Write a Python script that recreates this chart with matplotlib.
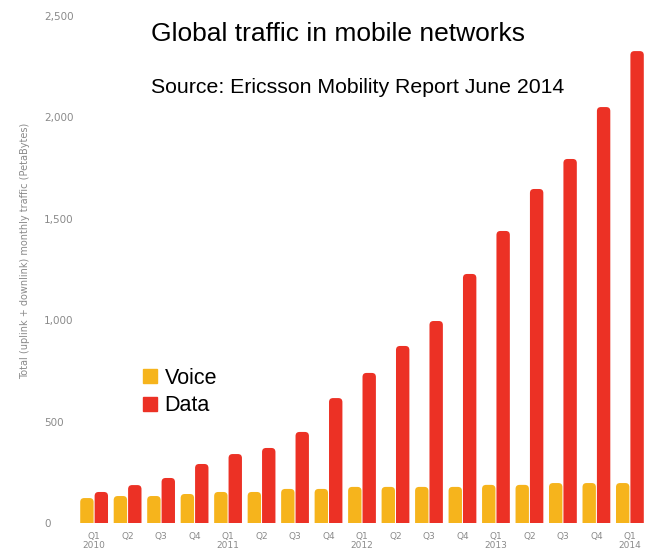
import numpy as np
import matplotlib.pyplot as plt
from matplotlib.patches import FancyBboxPatch
from matplotlib.lines import Line2D

quarters = ["Q1\n2010", "Q2", "Q3", "Q4",
            "Q1\n2011", "Q2", "Q3", "Q4",
            "Q1\n2012", "Q2", "Q3", "Q4",
            "Q1\n2013", "Q2", "Q3", "Q4",
            "Q1\n2014"]
voice = [123, 133, 133, 143, 153, 153, 168, 168, 178, 178, 178, 178,
         188, 188, 197, 197, 197]
data = [153, 187, 222, 291, 340, 370, 449, 616, 740, 873, 996, 1228,
        1440, 1647, 1795, 2051, 2327]
yticks = [0, 500, 1000, 1500, 2000, 2500]
ytick_labels = ["0", "500", "1,000", "1,500", "2,000", "2,500"]

c_voice = "#F6B41C"
c_data = "#EC3125"
grey = "#8a8a8a"

fig = plt.figure(figsize=(6.52, 5.51), dpi=100)
W, H = 652, 551
ax = fig.add_axes([70 / W, 28 / H, (652 - 70) / W, (523 - 16) / H])

x = np.arange(len(quarters))
bw = 0.4
off = 0.215
xlim = (-0.72, 16.66)
ylim = (0, 2500)
ax.set_xlim(*xlim)
ax.set_ylim(*ylim)

# rounded tops: radius in x units, aspect converts to y units
px_x = (652 - 70) / (xlim[1] - xlim[0])
px_y = (523 - 16) / (ylim[1] - ylim[0])
r = 0.12
aspect = px_x / px_y


def rbar(xc, h, color):
    p = FancyBboxPatch((xc - bw / 2, -200), bw, h + 200,
                       boxstyle="round,pad=0,rounding_size=%f" % r,
                       mutation_aspect=aspect, fc=color, ec="none")
    ax.add_patch(p)


for i in range(len(quarters)):
    rbar(x[i] - off, voice[i], c_voice)
    rbar(x[i] + off, data[i], c_data)

for s in ax.spines.values():
    s.set_visible(False)
ax.tick_params(length=0)
ax.set_xticks(x)
ax.set_xticklabels(quarters, fontsize=6.5, color=grey, linespacing=0.95)
ax.tick_params(axis="x", pad=6.5)
ax.set_yticks(yticks)
ax.set_yticklabels(ytick_labels, fontsize=7.5, color=grey)
ax.tick_params(axis="y", pad=18.5)
for t in ax.get_yticklabels():
    t.set_horizontalalignment("left")

fig.text(25 / W, 1 - 251 / H, "Total (uplink + downlink) monthly traffic (PetaBytes)",
         rotation=90, ha="center", va="center", fontsize=7, color=grey)

fig.text(151 / W, 1 - 34 / H, "Global traffic in mobile networks",
         fontsize=19, family="Liberation Sans", va="center", ha="left")
fig.text(151 / W, 1 - 88 / H, "Source: Ericsson Mobility Report June 2014",
         fontsize=15.3, family="Liberation Sans", va="center", ha="left")

handles = [Line2D([], [], ls="none", marker="s", ms=9.5, mfc=c_voice, mec=c_voice),
           Line2D([], [], ls="none", marker="s", ms=9.5, mfc=c_data, mec=c_data)]
fig.legend(handles, ["Voice", "Data"], loc="upper left",
           bbox_to_anchor=(144 / W, 1 - 368 / H), frameon=False,
           prop={"family": "Liberation Sans", "size": 15.5},
           handlelength=0.6, handletextpad=0.35, labelspacing=0.3,
           borderpad=0, borderaxespad=0)

fig.savefig("out.png", dpi=100)
